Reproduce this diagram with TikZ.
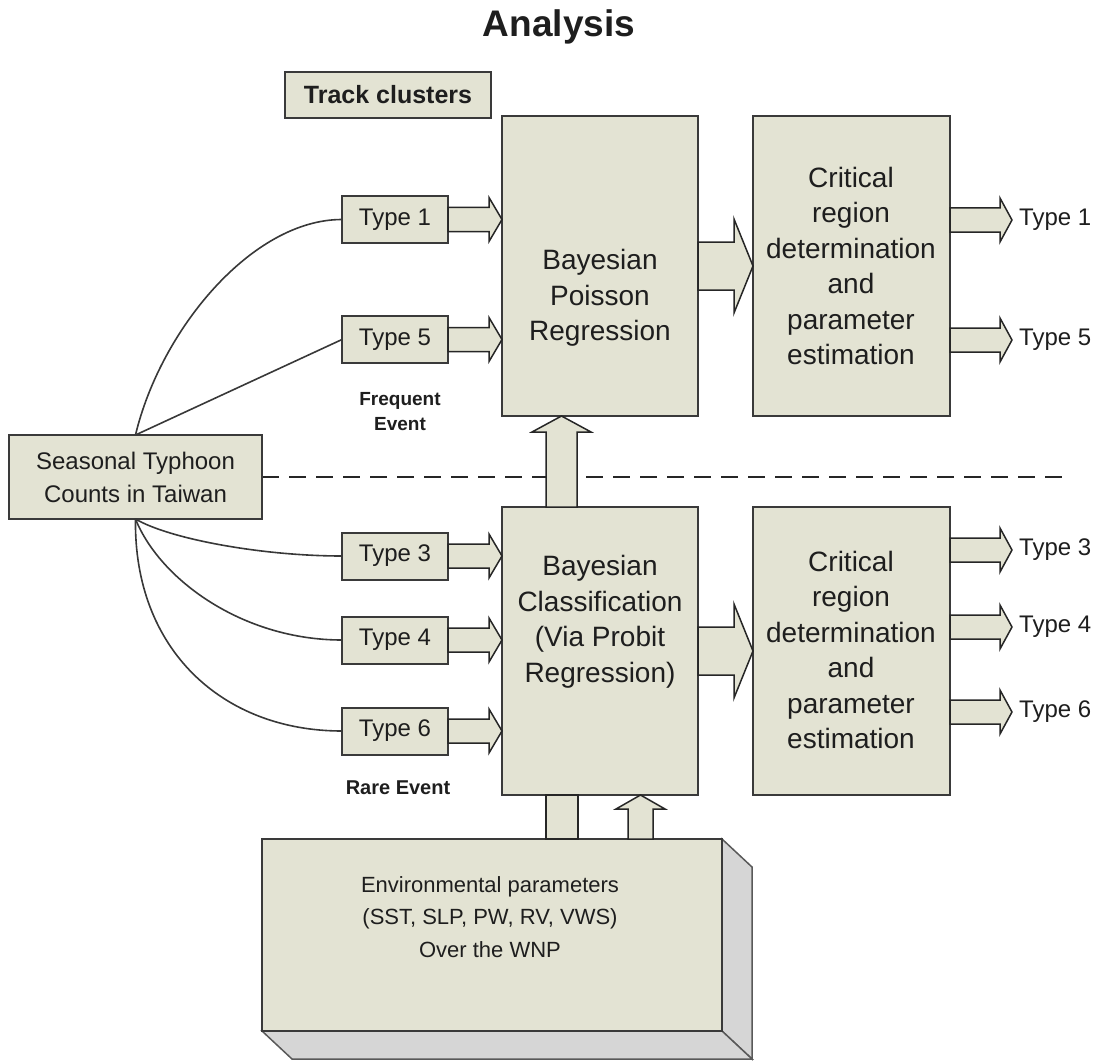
\documentclass[tikz,border=0pt]{standalone}
\usepackage{fontspec}
\setmainfont{Liberation Sans}
\usetikzlibrary{calc}
\definecolor{boxfill}{RGB}{227,227,211}
\definecolor{boxline}{RGB}{58,58,58}
\definecolor{sidefill}{RGB}{214,214,214}
\definecolor{txt}{RGB}{30,30,30}
% right-pointing block arrow: #1 start, #2 tip (x only), #3 half shaft, #4 half head, #5 head length
\newcommand\blockR[5]{%
  \path[blockarrow] let \p1=(#1), \p2=(#2) in
    (\x1,\y1+#3) -- (\x2-#5,\y1+#3) -- (\x2-#5,\y1+#4) -- (\x2,\y1)
    -- (\x2-#5,\y1-#4) -- (\x2-#5,\y1-#3) -- (\x1,\y1-#3) -- cycle;}
% upward block arrow: #1 start, #2 tip (y only)
\newcommand\blockU[5]{%
  \path[blockarrow] let \p1=(#1), \p2=(#2) in
    (\x1+#3,\y1) -- (\x1+#3,\y2-#5) -- (\x1+#4,\y2-#5) -- (\x1,\y2)
    -- (\x1-#4,\y2-#5) -- (\x1-#3,\y2-#5) -- (\x1-#3,\y1) -- cycle;}
\begin{document}
\begin{tikzpicture}[x=1pt,y=-1pt,
  box/.style={draw=boxline,line width=2pt,fill=boxfill,inner sep=0pt,outer sep=0pt,text=txt},
  blockarrow/.style={draw=black!85,line width=1.5pt,fill=boxfill,line join=miter},
  conn/.style={draw=black!78,line width=1.6pt},
  tsmall/.style={font=\fontsize{24}{29}\selectfont,text=txt},
  tbig/.style={font=\fontsize{28}{35.5}\selectfont,text=txt,align=center,inner sep=0pt},
  tenv/.style={font=\fontsize{22}{32.5}\selectfont,text=txt,align=center,inner sep=0pt},
  tbold/.style={font=\bfseries\fontsize{19}{25}\selectfont,text=txt,align=center,inner sep=0pt},
  sepline/.style={draw=black!85,line width=2pt,dash pattern=on 17pt off 10pt}]
\useasboundingbox (0,0) rectangle (1104,1062);

% title
\node[font=\bfseries\fontsize{37}{40}\selectfont,text=txt,inner sep=0pt] (title) at (559,27) {Analysis};
\node[box,minimum width=206,minimum height=46,font=\bfseries\fontsize{25}{28}\selectfont] (tc) at (388,95) {Track clusters};

% separator
\draw[sepline] (262,477) -- (1062,477);

% main boxes
\node[box,minimum width=196,minimum height=300] (bp) at (600,266) {};
\node[tbig] (bptext) at (600,298) {Bayesian\\Poisson\\Regression};
\node[box,minimum width=197,minimum height=300] (cr1) at (851.5,266) {};
\node[tbig] (cr1text) at (851,266) {Critical\\region\\determination\\and\\parameter\\estimation};
\node[box,minimum width=196,minimum height=288] (cls) at (600,651) {};
\node[tbig] (clstext) at (600,622) {Bayesian\\Classification\\(Via Probit\\Regression)};
\node[box,minimum width=197,minimum height=288] (cr2) at (851.5,651) {};
\node[tbig] (cr2text) at (851,650) {Critical\\region\\determination\\and\\parameter\\estimation};

% seasonal box
\node[box,minimum width=253,minimum height=84,align=center,font=\fontsize{24}{33}\selectfont] (sea) at (135.5,477) {Seasonal Typhoon\\Counts in Taiwan};

% type boxes
\foreach \n/\t/\yy in {t1/Type 1/219.5, t5/Type 5/339.5, t3/Type 3/556, t4/Type 4/640, t6/Type 6/731}
  {\node[box,minimum width=106,minimum height=47,tsmall] (\n) at (395,\yy) {\t};}

\node[tbold] (freq) at (400,412) {Frequent\\Event};
\node[tbold,font=\bfseries\fontsize{20}{25}\selectfont] (rare) at (398,788) {Rare Event};

% connectors from seasonal box
\draw[conn] (sea.north) .. controls +(25,-105) and +(-90,0) .. (t1.west);
\draw[conn] (sea.north) -- (t5.west);
\draw[conn] (sea.south) .. controls +(34,20) and +(-80,0) .. (t3.west);
\draw[conn] (sea.south) .. controls +(24,60) and +(-100,0) .. (t4.west);
\draw[conn] (sea.south) .. controls +(-2,130) and +(-120,0) .. (t6.west);

% type -> model arrows
\blockR{t1.east}{bp.west}{12pt}{22pt}{13pt}
\blockR{t5.east}{bp.west}{12pt}{22pt}{13pt}
\blockR{t3.east}{cls.west}{12pt}{22pt}{13pt}
\blockR{t4.east}{cls.west}{12pt}{22pt}{13pt}
\blockR{t6.east}{cls.west}{12pt}{22pt}{13pt}

% model -> critical
\blockR{bp.east}{cr1.west}{24pt}{47pt}{19pt}
\blockR{cls.east}{cr2.west}{24pt}{47pt}{19pt}

% classification -> poisson
\coordinate (ca) at ($(cls.north)+(-38.5,0)$);
\coordinate (cb) at ($(bp.south)+(-38.5,0)$);
\blockU{ca}{cb}{15.5pt}{29.5pt}{16pt}

% outputs
\node[tsmall,anchor=west,inner sep=0pt] (o1) at (1019,220) {Type 1};
\node[tsmall,anchor=west,inner sep=0pt] (o5) at (1019,340) {Type 5};
\node[tsmall,anchor=west,inner sep=0pt] (o3) at (1019,550) {Type 3};
\node[tsmall,anchor=west,inner sep=0pt] (o4) at (1019,627) {Type 4};
\node[tsmall,anchor=west,inner sep=0pt] (o6) at (1019,712) {Type 6};
\coordinate (e1) at ($(o1.west)+(-7,0)$);
\coordinate (e5) at ($(o5.west)+(-7,0)$);
\coordinate (e3) at ($(o3.west)+(-7,0)$);
\coordinate (e4) at ($(o4.west)+(-7,0)$);
\coordinate (e6) at ($(o6.west)+(-7,0)$);
\blockR{cr1.east |- o1}{e1}{12pt}{22pt}{12pt}
\blockR{cr1.east |- o5}{e5}{12pt}{22pt}{12pt}
\blockR{cr2.east |- o3}{e3}{12pt}{22pt}{12pt}
\blockR{cr2.east |- o4}{e4}{12pt}{22pt}{12pt}
\blockR{cr2.east |- o6}{e6}{12pt}{22pt}{12pt}

% environmental 3D box
\node[box,minimum width=460,minimum height=192] (env) at (492,935) {};
\path[fill=sidefill,draw=black!65,line width=1.5pt,line join=miter]
  (env.north east) -- ++(30,28) -- ++(0,192) -- (env.south east) -- cycle;
\path[fill=sidefill,draw=black!65,line width=1.5pt,line join=miter]
  (env.south west) -- (env.south east) -- ++(30,28) -- ($(env.south west)+(30,28)$) -- cycle;
\draw[boxline,line width=2pt] (env.north west) rectangle (env.south east);
\node[tenv] (envtext) at (490,917) {Environmental parameters\\(SST, SLP, PW, RV, VWS)\\Over the WNP};

% environment -> classification
\coordinate (ra) at ($(cls.south)+(-54,0)$);
\path[blockarrow] (ra) rectangle ($(ra |- env.north)+(32,0)$);
\coordinate (ub) at ($(cls.south)+(40.5,0)$);
\blockU{ub |- env.north}{ub}{12.5pt}{24.5pt}{14pt}
\end{tikzpicture}
\end{document}
